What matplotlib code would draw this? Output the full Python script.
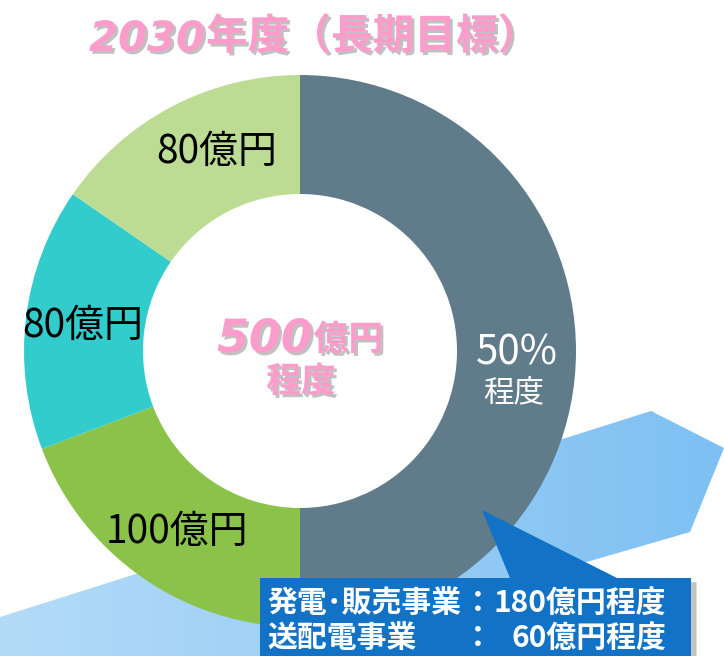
import numpy as np
import matplotlib
matplotlib.use("Agg")
import matplotlib.pyplot as plt
from matplotlib.patches import Polygon
from matplotlib.colors import LinearSegmentedColormap
import matplotlib.patheffects as pe

# ---- data ----
segment_labels = ["50%\n程度", "100億円", "80億円", "80億円"]
segment_values = [260, 100, 80, 80]
segment_colors = ["#607b8a", "#8bc34a", "#33cccc", "#bcdc94"]
title_num = "2030"
title_txt = "年度（長期目標）"
total_num = "500"
total_unit = "億円"
total_suffix = "程度"
box_rows = [("発電･販売事業", "：", "180億円程度"),
            ("送配電事業", "：", "60億円程度")]

W, H = 724, 656
JP = ["Noto Sans CJK JP", "DejaVu Sans"]
PINK = "#fc9ccb"

def Y(py):
    return H - py

fig = plt.figure(figsize=(W / 100, H / 100), dpi=100)
ax = fig.add_axes([0, 0, 1, 1])

# background band with gradient
band = Polygon([(0, Y(617)), (651, Y(411)), (724, Y(448)), (690, Y(532)),
                (111, Y(700)), (0, Y(700))], closed=True, transform=ax.transData,
               facecolor="none", edgecolor="none")
ax.add_patch(band)
grad = np.linspace(0, 1, 256).reshape(1, -1)
cmap = LinearSegmentedColormap.from_list("band", ["#b4dbf8", "#7ec0f3"])
im = ax.imshow(grad, extent=[0, W, 0, H], cmap=cmap, aspect="auto",
               zorder=0, interpolation="bilinear")
im.set_clip_path(band)

# donut
wedges, _ = ax.pie(segment_values, colors=segment_colors, startangle=90,
                   counterclock=False, radius=276, center=(300, Y(351)),
                   wedgeprops=dict(width=119, linewidth=0))
for w in wedges:
    w.set_zorder(2)

ax.set_xlim(0, W)
ax.set_ylim(0, H)
ax.set_aspect("auto")
ax.axis("off")

# segment labels
ax.text(517, Y(353), segment_labels[0].split("\n")[0], color="white",
        fontsize=29, family=JP, ha="center", va="center", zorder=5)
ax.text(514, Y(393), segment_labels[0].split("\n")[1], color="white",
        fontsize=22, family=JP, ha="center", va="center", zorder=5)
ax.text(177, Y(532), segment_labels[1], color="black", fontsize=28,
        family=JP, ha="center", va="center", zorder=5)
ax.text(83, Y(326), segment_labels[2], color="black", fontsize=28,
        family=JP, ha="center", va="center", zorder=5)
ax.text(217, Y(152), segment_labels[3], color="black", fontsize=28,
        family=JP, ha="center", va="center", zorder=5)

shadow = [pe.withSimplePatchShadow(offset=(2, -2), shadow_rgbFace="#777777", alpha=0.45)]
renderer = fig.canvas.get_renderer()

def right_edge(t):
    bb = t.get_window_extent(renderer)
    return ax.transData.inverted().transform((bb.x1, bb.y0))[0]

# title
t1 = ax.text(89, Y(51), title_num, color=PINK, fontsize=30, fontweight="bold",
             fontstyle="italic", family="DejaVu Sans", va="baseline", ha="left",
             path_effects=shadow, zorder=5)
x1 = right_edge(t1)
ax.text(x1 + 1, Y(49), title_txt, color=PINK, fontsize=30, fontweight="bold",
        family=JP, va="baseline", ha="left", path_effects=shadow, zorder=5)

# center text
c1 = ax.text(217, Y(352), total_num, color=PINK, fontsize=33, fontweight="bold",
             fontstyle="italic", family="DejaVu Sans", va="baseline", ha="left",
             path_effects=shadow, zorder=5)
cx = right_edge(c1)
ax.text(cx + 1, Y(350), total_unit, color=PINK, fontsize=25, fontweight="bold",
        family=JP, va="baseline", ha="left", path_effects=shadow, zorder=5)
ax.text(301, Y(392), total_suffix, color=PINK, fontsize=25, fontweight="bold",
        family=JP, va="baseline", ha="center", path_effects=shadow, zorder=5)

# callout box
callout = Polygon([(260, Y(578)), (510, Y(578)), (482, Y(510)), (617, Y(578)),
                   (691, Y(578)), (691, Y(700)), (260, Y(700))], closed=True,
                  facecolor="#1272c6", edgecolor="none", zorder=4,
                  path_effects=[pe.withSimplePatchShadow(offset=(4, -3),
                                                         shadow_rgbFace="#555555",
                                                         alpha=0.35)])
ax.add_patch(callout)

for (lab, col, val), base in zip(box_rows, [612, 647]):
    ax.text(267, Y(base), lab, color="white", fontsize=21.5, fontweight="bold",
            family=JP, va="baseline", ha="left", zorder=6)
    ax.text(478, Y(base), col, color="white", fontsize=21.5, fontweight="bold",
            family=JP, va="baseline", ha="center", zorder=6)
    ax.text(666, Y(base), val, color="white", fontsize=21.5, fontweight="bold",
            family=JP, va="baseline", ha="right", zorder=6)

fig.savefig("out.png", dpi=100, facecolor="white")
